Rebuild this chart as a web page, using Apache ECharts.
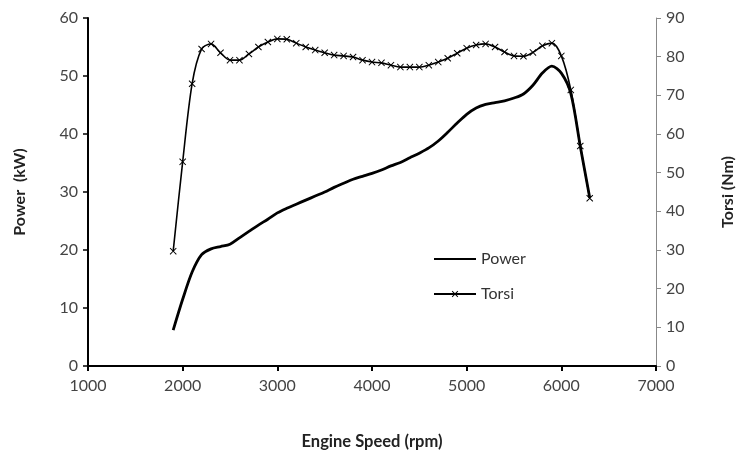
<!DOCTYPE html>
<html><head><meta charset="utf-8">
<script src="https://cdn.jsdelivr.net/npm/echarts@6/dist/echarts.min.js"></script>
<style>html,body{margin:0;padding:0;background:#fff}#c{width:736px;height:451px}</style>
</head><body><div id="c"></div>
<script>
const rpm = [1900,2000,2100,2200,2300,2400,2500,2600,2700,2800,2900,3000,3100,3200,3300,3400,3500,3600,3700,3800,3900,4000,4100,4200,4300,4400,4500,4600,4700,4800,4900,5000,5100,5200,5300,5400,5500,5600,5700,5800,5900,6000,6100,6200,6300];
const power = [6.2,11.5,16.2,19.2,20.2,20.6,21.0,22.1,23.2,24.3,25.3,26.4,27.2,27.9,28.6,29.3,30,30.8,31.5,32.2,32.7,33.2,33.8,34.5,35.1,35.9,36.7,37.6,38.8,40.3,41.9,43.4,44.5,45.1,45.4,45.7,46.2,46.9,48.4,50.5,51.7,50.5,47,37.9,29];
const torsi = [29.7,52.8,73,82,83.3,81,79.1,79.1,80.7,82.5,83.8,84.6,84.5,83.5,82.5,81.7,81,80.4,80.2,79.9,79.1,78.6,78.4,77.8,77.3,77.3,77.3,77.8,78.6,79.6,80.9,82.2,83,83.3,82.5,81.2,80.2,80.1,81.1,82.8,83.5,80.2,71.4,56.9,43.4];
const xTicks = [1000,2000,3000,4000,5000,6000,7000];

const font = 'Lato, "Liberation Sans", sans-serif';
const xMark = 'path://M0,1 L1,0 L5,4 L9,0 L10,1 L6,5 L10,9 L9,10 L5,6 L1,10 L0,9 L4,5 Z';
const chart = echarts.init(document.getElementById('c'), null, {renderer:'canvas'});
chart.setOption({
  animation:false,
  textStyle:{fontFamily:font},
  grid:{left:88,right:80,top:18,bottom:85,containLabel:false,outerBoundsMode:'none'},
  legend:{
    orient:'vertical', left:428, top:246, itemGap:19, itemWidth:42, itemHeight:8,
    textStyle:{fontFamily:font,fontSize:16,color:'#333'},
    data:[{name:'Power', itemStyle:{opacity:0}},{name:'Torsi'}]
  },
  xAxis:{
    type:'value', min:xTicks[0], max:xTicks[xTicks.length-1], interval:1000,
    name:'Engine Speed (rpm)', nameLocation:'middle', nameGap:67,
    nameTextStyle:{fontFamily:font,fontSize:16.5,fontWeight:'bold',color:'#222'},
    axisLine:{lineStyle:{color:'#000',width:2}},
    axisTick:{show:true,length:5,lineStyle:{color:'#000',width:2}},
    axisLabel:{fontFamily:font,fontSize:16,color:'#444',margin:12,formatter:v=>String(v)},
    splitLine:{show:false}
  },
  yAxis:[{
    type:'value', min:0, max:60, interval:10, position:'left',
    name:'Power  (kW)', nameLocation:'middle', nameGap:60, nameRotate:90,
    nameTextStyle:{fontFamily:font,fontSize:16,fontWeight:'bold',color:'#222'},
    axisLine:{show:true,lineStyle:{color:'#000',width:2}},
    axisTick:{show:true,length:5,lineStyle:{color:'#000',width:1.5}},
    axisLabel:{fontFamily:font,fontSize:16,color:'#444',margin:10},
    splitLine:{show:false}
  },{
    type:'value', min:0, max:90, interval:10, position:'right',
    name:'Torsi (Nm)', nameLocation:'middle', nameGap:64, nameRotate:90,
    nameTextStyle:{fontFamily:font,fontSize:16,fontWeight:'bold',color:'#222'},
    axisLine:{show:true,lineStyle:{color:'#888',width:1}},
    axisTick:{show:true,length:5,lineStyle:{color:'#888',width:1}},
    axisLabel:{fontFamily:font,fontSize:16,color:'#444',margin:10},
    splitLine:{show:false}
  }],
  series:[{
    name:'Power', type:'line', yAxisIndex:0, smooth:0.3, symbol:'none',
    lineStyle:{color:'#000',width:2.8}, itemStyle:{color:'#000'},
    data:rpm.map((r,i)=>[r,power[i]])
  },{
    name:'Torsi', type:'line', yAxisIndex:1, smooth:0.3, symbol:xMark, symbolSize:7,
    lineStyle:{color:'#000',width:1.6}, itemStyle:{color:'#000'},
    data:rpm.map((r,i)=>[r,torsi[i]])
  }]
});
</script></body></html>
